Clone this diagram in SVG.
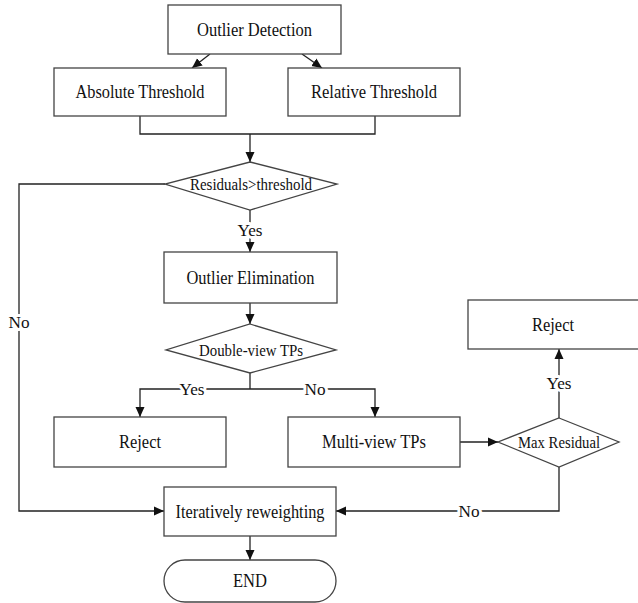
<svg xmlns="http://www.w3.org/2000/svg" width="638" height="603" viewBox="0 0 638 603">
<defs>
<style>
.box{fill:#fff;stroke:#444;stroke-width:1.3}
.ln{fill:none;stroke:#222;stroke-width:1.3}
.t{font-family:"Liberation Serif","Times New Roman",serif;font-size:18px;fill:#111;text-anchor:middle;dominant-baseline:central}
.d{font-size:16px}
.lbl{font-size:17px;paint-order:stroke;stroke:#fff;stroke-width:6px;stroke-linejoin:round}
</style>
<marker id="ah" markerUnits="userSpaceOnUse" markerWidth="10" markerHeight="10" refX="10" refY="5" orient="auto" viewBox="0 0 10 10">
<path d="M0,0.5 L10,5 L0,9.5 z" fill="#111"/>
</marker>
</defs>
<rect width="638" height="603" fill="#fff"/>
<g id="connectors">
<path class="ln" d="M210,54 L192,68" marker-end="url(#ah)"/>
<path class="ln" d="M302,54 L322,68" marker-end="url(#ah)"/>
<path class="ln" d="M140,116 V134 H375 V116"/>
<path class="ln" d="M250,134 V162" marker-end="url(#ah)"/>
<path class="ln" d="M250,210 V252" marker-end="url(#ah)"/>
<path class="ln" d="M165,184 H19 V511 H164" marker-end="url(#ah)"/>
<path class="ln" d="M250,303 V324" marker-end="url(#ah)"/>
<path class="ln" d="M250,373 V389"/>
<path class="ln" d="M250,389 H140 V417" marker-end="url(#ah)"/>
<path class="ln" d="M250,389 H375 V417" marker-end="url(#ah)"/>
<path class="ln" d="M460,442 H498" marker-end="url(#ah)"/>
<path class="ln" d="M559,418 V349" marker-end="url(#ah)"/>
<path class="ln" d="M559,467 V511 H336" marker-end="url(#ah)"/>
<path class="ln" d="M250,536 V560" marker-end="url(#ah)"/>
<text class="t lbl" x="250" y="230" textLength="25" lengthAdjust="spacingAndGlyphs">Yes</text>
<text class="t lbl" x="19" y="322" textLength="21" lengthAdjust="spacingAndGlyphs">No</text>
<text class="t lbl" x="192" y="389" textLength="25" lengthAdjust="spacingAndGlyphs">Yes</text>
<text class="t lbl" x="315" y="389" textLength="21" lengthAdjust="spacingAndGlyphs">No</text>
<text class="t lbl" x="559" y="383" textLength="25" lengthAdjust="spacingAndGlyphs">Yes</text>
<text class="t lbl" x="469" y="511" textLength="21" lengthAdjust="spacingAndGlyphs">No</text>
</g>
<g id="outlier-detection"><rect class="box" x="168" y="5" width="173" height="49"/><text class="t" x="254.5" y="29.5" textLength="115" lengthAdjust="spacingAndGlyphs">Outlier Detection</text></g>
<g id="absolute-threshold"><rect class="box" x="54" y="68" width="172" height="48"/><text class="t" x="140" y="92" textLength="129" lengthAdjust="spacingAndGlyphs">Absolute Threshold</text></g>
<g id="relative-threshold"><rect class="box" x="288" y="68" width="172" height="48"/><text class="t" x="374" y="92" textLength="126" lengthAdjust="spacingAndGlyphs">Relative Threshold</text></g>
<g id="residuals-threshold"><polygon class="box" points="250,162 337,184 250,210 165,184"/><text class="t d" x="251" y="184" textLength="122" lengthAdjust="spacingAndGlyphs">Residuals&gt;threshold</text></g>
<g id="outlier-elimination"><rect class="box" x="164" y="252" width="173" height="51"/><text class="t" x="250.5" y="277.5" textLength="128" lengthAdjust="spacingAndGlyphs">Outlier Elimination</text></g>
<g id="double-view"><polygon class="box" points="250,324 336,350 250,373 166,350"/><text class="t d" x="251" y="350" textLength="104" lengthAdjust="spacingAndGlyphs">Double-view TPs</text></g>
<g id="reject-left"><rect class="box" x="54" y="417" width="172" height="50"/><text class="t" x="140" y="442" textLength="42" lengthAdjust="spacingAndGlyphs">Reject</text></g>
<g id="multi-view"><rect class="box" x="288" y="417" width="172" height="50"/><text class="t" x="374" y="442" textLength="104" lengthAdjust="spacingAndGlyphs">Multi-view TPs</text></g>
<g id="max-residual"><polygon class="box" points="559,418 619,442 559,467 498,442"/><text class="t d" x="559" y="442" textLength="82" lengthAdjust="spacingAndGlyphs">Max Residual</text></g>
<g id="reject-right"><rect class="box" x="468" y="300" width="172" height="49"/><text class="t" x="553" y="324.5" textLength="42" lengthAdjust="spacingAndGlyphs">Reject</text></g>
<g id="iteratively-reweighting"><rect class="box" x="164" y="487" width="172" height="49"/><text class="t" x="250" y="511.5" textLength="149" lengthAdjust="spacingAndGlyphs">Iteratively reweighting</text></g>
<g id="end"><rect class="box" x="164" y="560" width="172" height="42" rx="21" ry="21"/><text class="t" x="250" y="581" textLength="34" lengthAdjust="spacingAndGlyphs">END</text></g>
</svg>
